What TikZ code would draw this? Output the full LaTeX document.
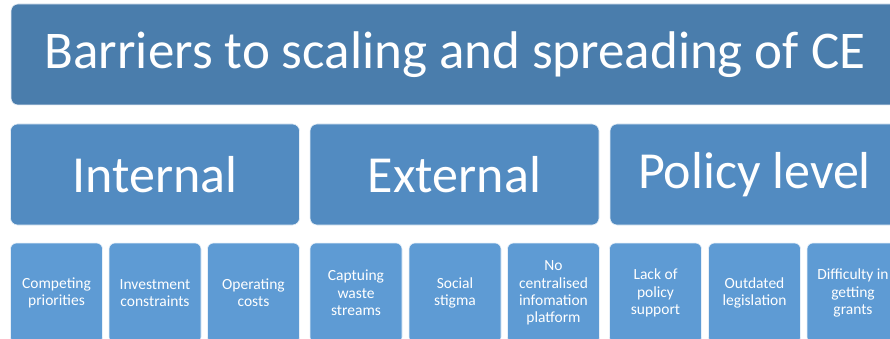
\documentclass[tikz,border=0pt]{standalone}
\usepackage{fontspec}
\setmainfont{Carlito}
\usetikzlibrary{positioning}
\definecolor{topblue}{HTML}{4A7DAC}
\definecolor{midblue}{HTML}{528BC1}
\definecolor{lowblue}{HTML}{5E9BD4}
\tikzstyle{title box}=[rectangle,rounded corners=7pt,fill=topblue,draw=white!85!topblue,line width=0.6pt,text=white,minimum width=888pt,minimum height=101pt,inner sep=0pt,font=\fontsize{53}{56}\selectfont]
\tikzstyle{group box}=[rectangle,rounded corners=7pt,fill=midblue,draw=white!85!midblue,line width=0.6pt,text=white,minimum width=289pt,minimum height=101pt,inner sep=0pt,font=\fontsize{52}{56}\selectfont]
\tikzstyle{item box}=[rectangle,rounded corners=6pt,fill=lowblue,draw=white!85!lowblue,line width=0.6pt,text=white,minimum width=92pt,minimum height=100pt,inner sep=0pt,align=center,font=\fontsize{15.5}{17.3}\selectfont]

\begin{document}
\begin{tikzpicture}[x=1pt,y=-1pt]
\useasboundingbox (0,0) rectangle (890,339);
\clip (0,0) rectangle (890,339);

% The heading across the top
\node[title box] (title) at (455,54.5) {Barriers to scaling and spreading of CE};

% Then the three groups of barriers
\foreach \pos / \name / \text in {{(155,174.5)/internal/Internal},
{(454.5,174.5)/external/External},
{(754.5,174.5)/policy/Policy level}}
\node[group box] (\name) at \pos {\text};

% Finally the barriers under each group
\foreach \pos / \name / \text in {{(56.5,293)/priorities/Competing\\priorities},
{(155,293)/investment/Investment\\constraints},
{(253.5,293)/operating/Operating\\costs},
{(356,293)/waste/Captuing\\waste\\streams},
{(455,293)/stigma/Social\\stigma},
{(553.5,293)/platform/No\\centralised\\infomation\\platform},
{(655.5,293)/support/Lack of\\policy\\support},
{(754.5,293)/legislation/Outdated\\legislation},
{(853,293)/grants/Difficulty in\\getting\\grants}}
\node[item box] (\name) at \pos {\text};

\end{tikzpicture}
\end{document}
